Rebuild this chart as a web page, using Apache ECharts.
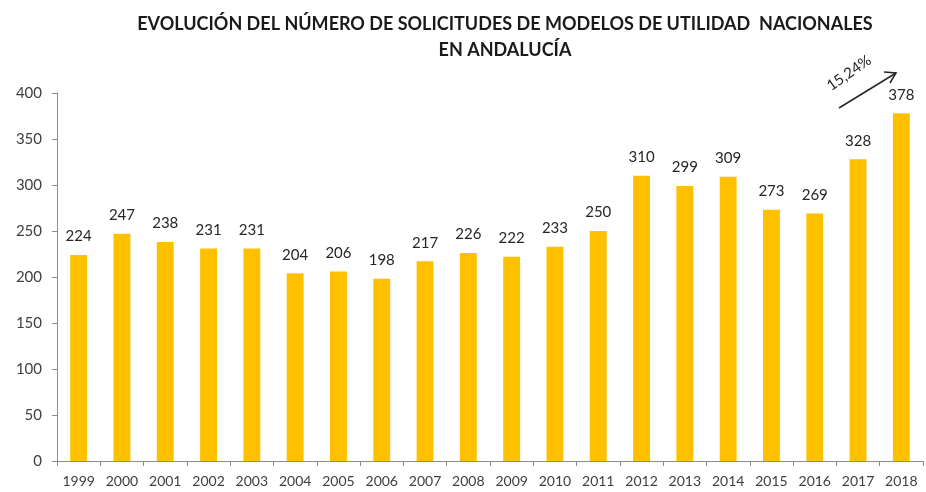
<!DOCTYPE html>
<html>
<head>
<meta charset="utf-8">
<script src="https://cdn.jsdelivr.net/npm/echarts@6/dist/echarts.min.js"></script>
<style>
    html, body { margin: 0; padding: 0; background: #fff; }
    #chart { width: 926px; height: 492px; }
</style>
</head>
<body>
<div id="chart"></div>
<script>
    // años y solicitudes
    let years = ['1999', '2000', '2001', '2002', '2003', '2004', '2005', '2006', '2007', '2008',
        '2009', '2010', '2011', '2012', '2013', '2014', '2015', '2016', '2017', '2018'];
    let solicitudes = [224, 247, 238, 231, 231, 204, 206, 198, 217, 226,
        222, 233, 250, 310, 299, 309, 273, 269, 328, 378];
    let variacion = '15,24%';

    let font = 'Lato, sans-serif';

    window.onload = function () {
        let chartDom = document.getElementById('chart');
        let chart = echarts.init(chartDom);

        let option = {
            animation: false,
            title: {
                text: 'EVOLUCIÓN DEL NÚMERO DE SOLICITUDES DE MODELOS DE UTILIDAD  NACIONALES\nEN ANDALUCÍA',
                left: 500,
                textAlign: 'center',
                top: 6,
                textStyle: {
                    color: '#1a1a1a',
                    fontWeight: 'bold',
                    fontSize: 18,
                    lineHeight: 26,
                    fontFamily: font
                }
            },
            grid: {
                left: 57,
                right: 3,
                top: 93,
                bottom: 31
            },
            xAxis: {
                type: 'category',
                data: years,
                axisLine: { lineStyle: { color: '#8c8c8c' } },
                axisTick: { show: true, length: 5, lineStyle: { color: '#8c8c8c' } },
                axisLabel: { interval: 0, color: '#404040', fontSize: 14, margin: 13, fontFamily: font }
            },
            yAxis: {
                type: 'value',
                min: 0,
                max: 400,
                interval: 50,
                axisLine: { show: true, lineStyle: { color: '#8c8c8c' } },
                axisTick: { show: true, length: 5, lineStyle: { color: '#8c8c8c' } },
                splitLine: { show: false },
                axisLabel: { color: '#404040', fontSize: 15, margin: 15, fontFamily: font }
            },
            series: [
                {
                    type: 'bar',
                    data: solicitudes,
                    barWidth: '39%',
                    itemStyle: { color: '#FFC000' },
                    label: {
                        show: true,
                        position: 'top',
                        distance: 11,
                        color: '#262626',
                        fontSize: 15,
                        fontFamily: font
                    }
                }
            ],
            graphic: [
                {
                    type: 'line',
                    shape: { x1: 839, y1: 108, x2: 896, y2: 73 },
                    style: { stroke: '#262626', lineWidth: 1.5 }
                },
                {
                    type: 'polyline',
                    shape: { points: [[884, 72], [896, 73], [890, 83]] },
                    style: { stroke: '#262626', lineWidth: 1.5, fill: null }
                },
                {
                    type: 'text',
                    x: 849,
                    y: 73,
                    rotation: 35 * Math.PI / 180,
                    style: {
                        text: variacion,
                        fill: '#262626',
                        font: '15px ' + font,
                        align: 'center',
                        verticalAlign: 'middle'
                    }
                }
            ]
        };

        chart.setOption(option);
    };
</script>
</body>
</html>
